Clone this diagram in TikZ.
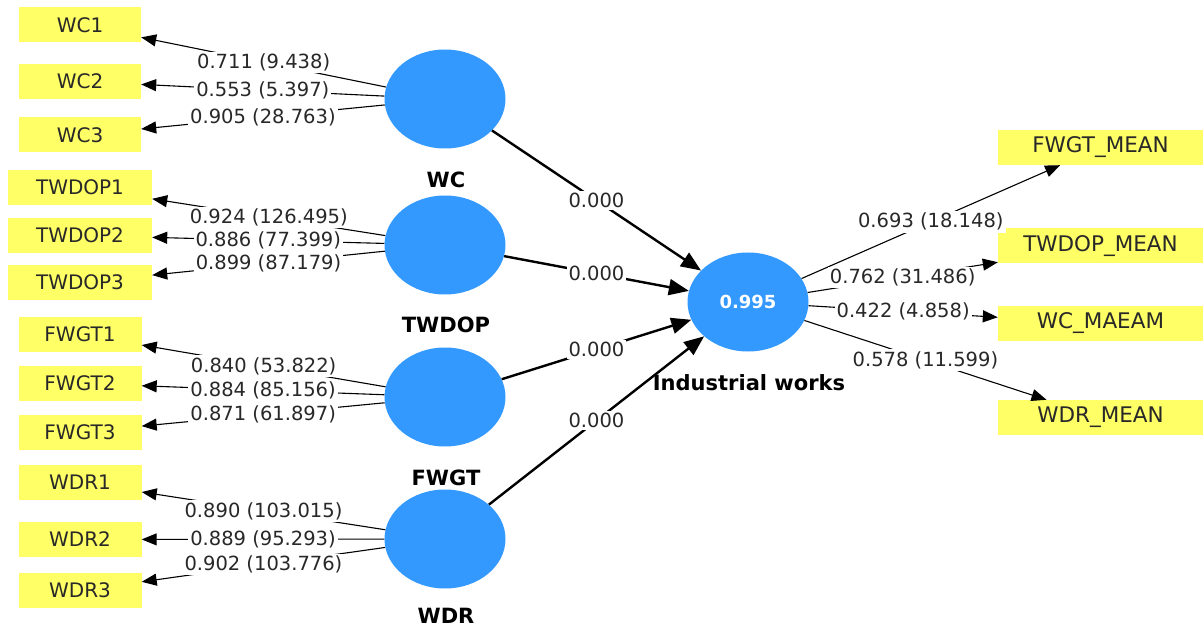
\documentclass[tikz,border=0pt]{standalone}
\usepackage{fontspec}
\setmainfont{DejaVu Sans}
\usetikzlibrary{shapes.geometric,arrows.meta}
\definecolor{boxyellow}{RGB}{255,255,102}
\definecolor{lvblue}{RGB}{51,153,255}
\definecolor{txtgray}{RGB}{40,40,40}

\begin{document}
\begin{tikzpicture}[x=1pt, y=-1pt,
    indbox/.style={fill=boxyellow, minimum height=35pt, inner sep=0pt, text=txtgray},
    lvnode/.style={ellipse, fill=lvblue, minimum width=121pt, minimum height=99pt, inner sep=0pt},
    lvname/.style={font=\fontsize{21}{23}\selectfont\bfseries},
    loadline/.style={line width=1.1pt, -{Triangle[length=15pt,width=12pt]}},
    pathline/.style={line width=2.4pt, -{Triangle[length=20pt,width=16pt]}},
    coef/.style={fill=white, inner sep=2pt, text=txtgray, font=\fontsize{19.5}{21}\selectfont}]
\useasboundingbox (0,0) rectangle (1203,631);

% latent variables
\node[lvnode] (WC) at (445,99) {};
\node[lvnode] (TWDOP) at (445,245) {};
\node[lvnode] (FWGT) at (445,397) {};
\node[lvnode] (WDR) at (445,539) {};
\node[lvnode, text=white, font=\fontsize{18}{20}\selectfont\bfseries] (IND) at (748,302) {0.995};

\node[lvname] (WClab) at (446,180) {WC};
\node[lvname] (TWDOPlab) at (446,325) {TWDOP};
\node[lvname] (FWGTlab) at (446,478) {FWGT};
\node[lvname] (WDRlab) at (446,616) {WDR};
\node[lvname] (INDlab) at (749,383) {Industrial works};

% indicators (left)
\foreach \nm/\y/\w in {WC1/25/122, WC2/81.5/122, WC3/135/122,
                       TWDOP1/187.5/144, TWDOP2/235.5/144, TWDOP3/282.5/144,
                       FWGT1/334.5/123, FWGT2/383.5/123, FWGT3/432/123,
                       WDR1/482.5/123, WDR2/539.5/123, WDR3/590.5/123} {
    \node[indbox, minimum width=\w pt, font=\fontsize{20}{22}\selectfont] (\nm) at (80,\y) {\nm};
}

% indicators (right)
\foreach \nm/\y/\txt in {fwgtm/147.5/FWGT\_MEAN, twdopm/246/TWDOP\_MEAN,
                         wcm/323.5/WC\_MAEAM, wdrm/417.5/WDR\_MEAN} {
    \node[indbox, minimum width=205pt, font=\fontsize{21.5}{23}\selectfont] (\nm) at (1100.5,\y) {\txt};
}

% outer loadings
\foreach \lv/\ind/\val in {WC/WC1/{0.711 (9.438)}, WC/WC2/{0.553 (5.397)}, WC/WC3/{0.905 (28.763)},
                           TWDOP/TWDOP1/{0.924 (126.495)}, TWDOP/TWDOP2/{0.886 (77.399)}, TWDOP/TWDOP3/{0.899 (87.179)},
                           FWGT/FWGT1/{0.840 (53.822)}, FWGT/FWGT2/{0.884 (85.156)}, FWGT/FWGT3/{0.871 (61.897)},
                           WDR/WDR1/{0.890 (103.015)}, WDR/WDR2/{0.889 (95.293)}, WDR/WDR3/{0.902 (103.776)},
                           IND/fwgtm/{0.693 (18.148)}, IND/twdopm/{0.762 (31.486)},
                           IND/wcm/{0.422 (4.858)}, IND/wdrm/{0.578 (11.599)}} {
    \draw[loadline] (\lv) -- node[coef] {\val} (\ind);
}

% structural paths
\foreach \lv in {WC, TWDOP, FWGT, WDR} {
    \draw[pathline] (\lv) -- node[coef] {0.000} (IND);
}
\end{tikzpicture}
\end{document}
